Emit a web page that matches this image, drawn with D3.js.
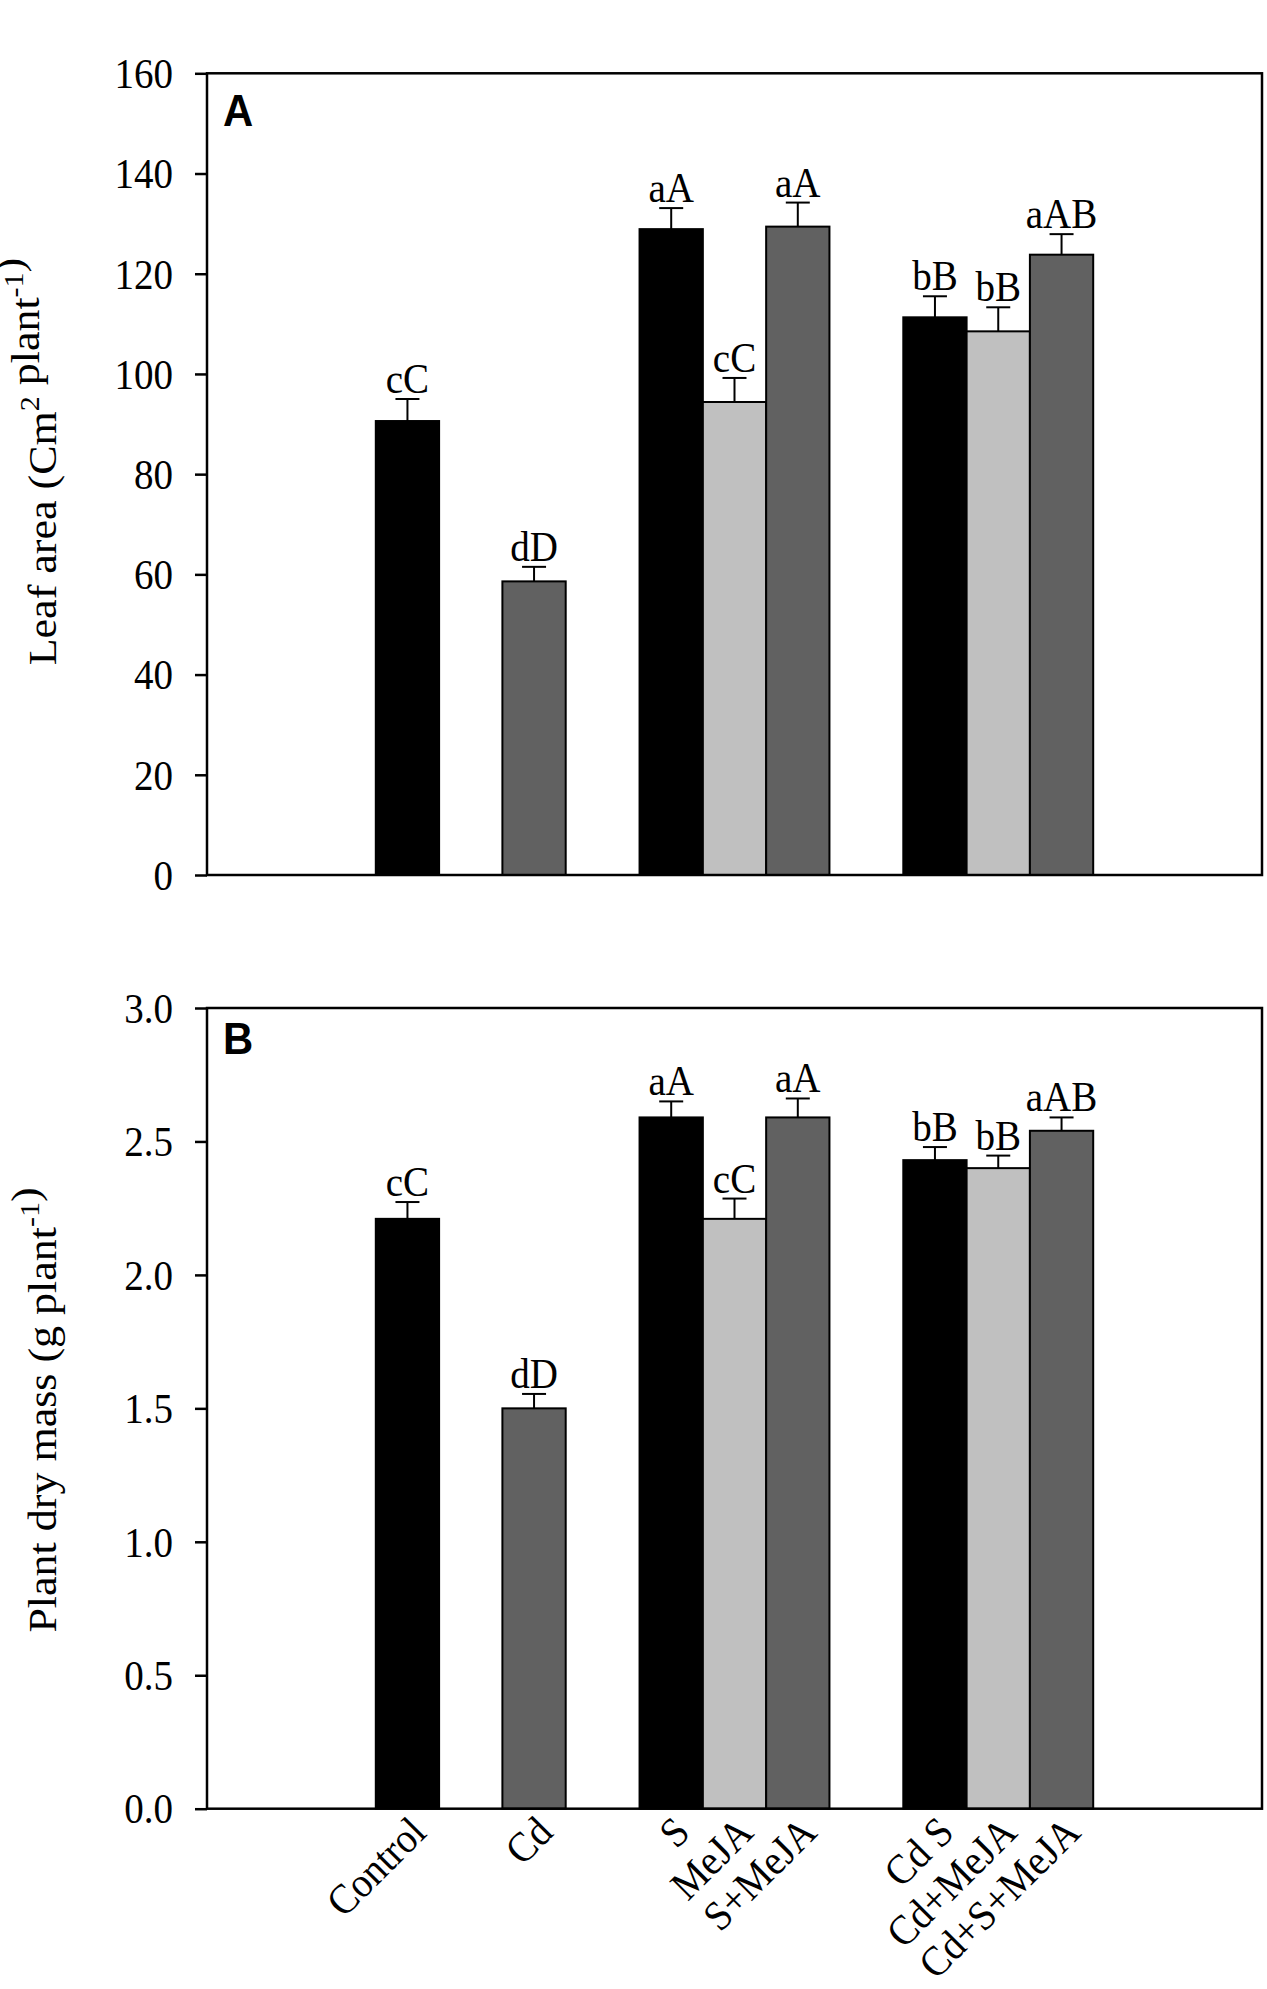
<!DOCTYPE html>
<html lang="en">
<head>
<meta charset="UTF-8">
<title>Leaf area and plant dry mass</title>
<script src="https://cdn.jsdelivr.net/npm/d3@7"></script>
<style>
  body { margin: 0; background: #fff; }
  svg { display: block; }
</style>
</head>
<body>
<svg id="chart" width="1267" height="1989"></svg>
<script>
// treatments in x order; group = position on the x axis, slot = which of the 3 bar places in a group
var treatments = ["Control", "Cd", "S", "MeJA", "S+MeJA", "Cd S", "Cd+MeJA", "Cd+S+MeJA"];
var treatmentGroup = [1, 1, 2, 2, 2, 3, 3, 3];
var treatmentSlot = [0, 2, 0, 1, 2, 0, 1, 2];

// panel A: leaf area
var leafArea = [90.6, 58.6, 128.9, 94.4, 129.4, 111.3, 108.5, 123.8];
var leafAreaErr = [4.4, 2.9, 4.2, 4.8, 4.8, 4.2, 4.8, 4.1];
var leafLetters = ["cC", "dD", "aA", "cC", "aA", "bB", "bB", "aAB"];
var leafTicks = [0, 20, 40, 60, 80, 100, 120, 140, 160];

// panel B: plant dry mass
var dryMass = [2.21, 1.50, 2.59, 2.21, 2.59, 2.43, 2.40, 2.54];
var dryMassErr = [0.063, 0.054, 0.06, 0.076, 0.071, 0.049, 0.047, 0.05];
var massLetters = ["cC", "dD", "aA", "cC", "aA", "bB", "bB", "aAB"];
var massTicks = [0, 0.5, 1.0, 1.5, 2.0, 2.5, 3.0];

var slotColors = ["#000000", "#c0c0c0", "#616161"];
var serif = "'Liberation Serif', 'Times New Roman', serif";
var sx = 0.93;   // the source picture is a bit narrow horizontally

var svg = d3.select("#chart");

var xScale = d3.scaleLinear().domain([0, 4]).range([207, 1262]);
var slotW = 0.24;
var bw = xScale(slotW) - xScale(0);

function barCenter(i) {
    return xScale(treatmentGroup[i] + (treatmentSlot[i] - 1) * slotW);
}

function panel(opt) {
    var y = d3.scaleLinear().domain(opt.domain).range([opt.bottom, opt.top]);
    var g = svg.append("g");

    g.selectAll("rect.bar")
        .data(opt.values)
        .enter()
        .append("rect")
        .attr("class", "bar")
        .attr("x", function(d, i) { return barCenter(i) - bw / 2; })
        .attr("width", bw)
        .attr("y", function(d) { return y(d); })
        .attr("height", function(d) { return y(0) - y(d); })
        .attr("fill", function(d, i) { return slotColors[treatmentSlot[i]]; })
        .attr("stroke", "#000")
        .attr("stroke-width", 2);

    // upper error bars
    var eb = g.selectAll("g.err")
        .data(opt.values)
        .enter()
        .append("g")
        .attr("class", "err")
        .attr("stroke", "#000")
        .attr("stroke-width", 2);
    eb.append("line")
        .attr("x1", function(d, i) { return barCenter(i); })
        .attr("x2", function(d, i) { return barCenter(i); })
        .attr("y1", function(d) { return y(d); })
        .attr("y2", function(d, i) { return y(d + opt.errs[i]); });
    eb.append("line")
        .attr("x1", function(d, i) { return barCenter(i) - 12; })
        .attr("x2", function(d, i) { return barCenter(i) + 12; })
        .attr("y1", function(d, i) { return y(d + opt.errs[i]); })
        .attr("y2", function(d, i) { return y(d + opt.errs[i]); });

    // letters over the bars
    g.selectAll("text.sig")
        .data(opt.letters)
        .enter()
        .append("text")
        .attr("class", "sig")
        .attr("text-anchor", "middle")
        .attr("font-family", serif)
        .attr("font-size", 42)
        .attr("transform", function(d, i) {
            return "translate(" + barCenter(i) + "," + (y(opt.values[i] + opt.errs[i]) - 6) + ") scale(" + sx + ",1)";
        })
        .text(function(d) { return d; });

    // frame
    g.append("rect")
        .attr("x", xScale(0))
        .attr("y", opt.top)
        .attr("width", xScale(4) - xScale(0))
        .attr("height", opt.bottom - opt.top)
        .attr("fill", "none")
        .attr("stroke", "#000")
        .attr("stroke-width", 2.5);

    var ax = g.append("g")
        .attr("transform", "translate(" + xScale(0) + ",0)")
        .call(d3.axisLeft(y).tickValues(opt.ticks).tickFormat(opt.fmt).tickSize(12).tickPadding(22));
    ax.select(".domain").remove();
    ax.selectAll(".tick line").attr("stroke-width", 2.5);
    ax.selectAll(".tick text")
        .attr("x", 0)
        .attr("dy", "0.34em")
        .attr("font-family", serif)
        .attr("font-size", 42)
        .attr("transform", "translate(-34,0) scale(" + sx + ",1)");

    // panel letter
    g.append("text")
        .attr("font-family", "'Liberation Sans', Arial, sans-serif")
        .attr("font-weight", "bold")
        .attr("font-size", 45)
        .attr("transform", "translate(223," + opt.letterY + ") scale(" + sx + ",1)")
        .text(opt.panel);

    // y title with superscripts
    var t = g.append("text")
        .attr("font-family", serif)
        .attr("font-size", 44)
        .attr("text-anchor", "middle")
        .attr("transform", "translate(56," + opt.titleY + ") scale(" + sx + ",1) rotate(-90)");
    opt.title.forEach(function(part) {
        if (part.sup) {
            t.append("tspan").attr("font-size", 30).attr("dy", -18).text(part.sup);
            t.append("tspan").attr("dy", 18).text("");
        } else {
            t.append("tspan").text(part.txt);
        }
    });

    return y;
}

panel({
    values: leafArea, errs: leafAreaErr, letters: leafLetters,
    domain: [0, 160], ticks: leafTicks, fmt: d3.format("d"),
    top: 73.3, bottom: 875, panel: "A", letterY: 126, titleY: 461.5,
    title: [{txt: "Leaf area (Cm"}, {sup: "2"}, {txt: " plant"}, {sup: "-1"}, {txt: ")"}]
});

var yB = panel({
    values: dryMass, errs: dryMassErr, letters: massLetters,
    domain: [0, 3], ticks: massTicks, fmt: d3.format(".1f"),
    top: 1008, bottom: 1808.7, panel: "B", letterY: 1054, titleY: 1410,
    title: [{txt: "Plant dry mass (g plant"}, {sup: "-1"}, {txt: ")"}]
});

// rotated treatment names under panel B
svg.append("g")
    .selectAll("text")
    .data(treatments)
    .enter()
    .append("text")
    .attr("text-anchor", "end")
    .attr("dy", "0.7em")
    .attr("font-family", serif)
    .attr("font-size", 42)
    .attr("transform", function(d, i) {
        return "translate(" + barCenter(i) + "," + (yB(0) + 5) + ") rotate(-45) scale(" + sx + ",1)";
    })
    .text(function(d) { return d; });
</script>
</body>
</html>
